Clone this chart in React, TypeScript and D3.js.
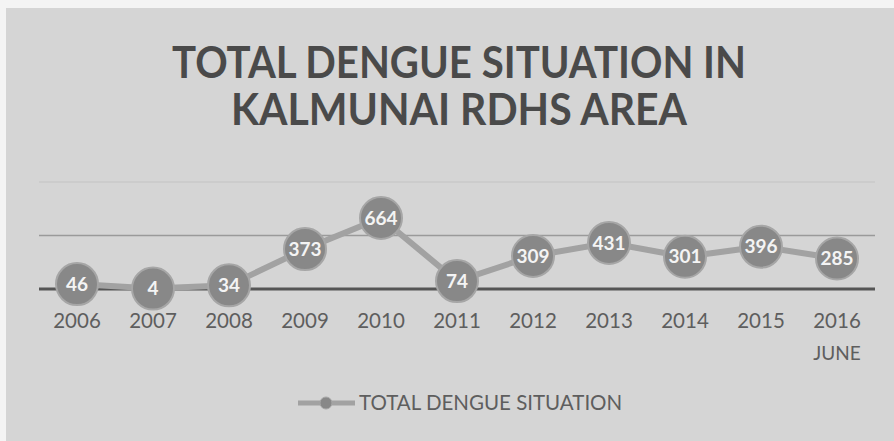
import React from "react";
import * as d3 from "d3";

const categories = ["2006", "2007", "2008", "2009", "2010", "2011", "2012", "2013", "2014", "2015", "2016"];
const subLabels = ["", "", "", "", "", "", "", "", "", "", "JUNE"];
const values = [46, 4, 34, 373, 664, 74, 309, 431, 301, 396, 285];
const gridTicks = [500, 1000];
const titleLines = ["TOTAL DENGUE SITUATION IN", "KALMUNAI RDHS AREA"];
const seriesName = "TOTAL DENGUE SITUATION";

const W = 894;
const H = 441;

export default function App() {
  const x = d3.scaleBand<string>().domain(categories).range([39, 875]);
  const y = d3.scaleLinear().domain([0, 1000]).range([289, 182]);
  const cx = (c: string) => (x(c) as number) + x.bandwidth() / 2;
  const line = d3
    .line<number>()
    .x((_, i) => cx(categories[i]))
    .y((v) => y(v));
  const font = "Lato, 'Open Sans', sans-serif";
  return (
    <svg
      width={W}
      height={H}
      style={{ position: "absolute", left: 0, top: 0 }}
      fontFamily={font}
    >
      <rect x={0} y={0} width={W} height={H} fill="#f4f4f4" />
      <rect x={6} y={8} width={W - 6} height={H - 8} fill="#d5d5d5" />
      {titleLines.map((t, i) => (
        <text
          key={i}
          x={459}
          y={78 + i * 47}
          textAnchor="middle"
          fontSize={43}
          fontWeight={700}
          fill="#4a4a4a"
          textLength={i === 0 ? 574 : 456}
          lengthAdjust="spacingAndGlyphs"
        >
          {t}
        </text>
      ))}
      {gridTicks.map((t) => (
        <line
          key={t}
          x1={39}
          x2={875}
          y1={y(t)}
          y2={y(t)}
          stroke={t === 1000 ? "#c8c8c8" : "#9a9a9a"}
          strokeWidth={1.5}
        />
      ))}
      <line x1={39} x2={875} y1={y(0)} y2={y(0)} stroke="#555" strokeWidth={3} />
      <path d={line(values) || ""} fill="none" stroke="#a2a2a2" strokeWidth={6} />
      {values.map((v, i) => (
        <g key={i}>
          <circle cx={cx(categories[i])} cy={y(v)} r={21} fill="#888" stroke="#a6a6a6" strokeWidth={2} />
          <text
            x={cx(categories[i])}
            y={y(v)}
            dy="0.35em"
            textAnchor="middle"
            fontSize={19}
            fontWeight={700}
            fill="#f4f4f4"
          >
            {v}
          </text>
        </g>
      ))}
      {categories.map((c, i) => (
        <g key={c}>
          <text x={cx(c)} y={328} textAnchor="middle" fontSize={20.5} fill="#5e5e5e">
            {c}
          </text>
          {subLabels[i] && (
            <text x={cx(c)} y={360} textAnchor="middle" fontSize={19} fill="#5e5e5e">
              {subLabels[i]}
            </text>
          )}
        </g>
      ))}
      <line x1={298} x2={355} y1={403} y2={403} stroke="#a2a2a2" strokeWidth={5} />
      <circle cx={326} cy={403} r={6} fill="#888" stroke="#a6a6a6" strokeWidth={1} />
      <text x={359} y={410} fontSize={20.5} fill="#5e5e5e">
        {seriesName}
      </text>
    </svg>
  );
}
